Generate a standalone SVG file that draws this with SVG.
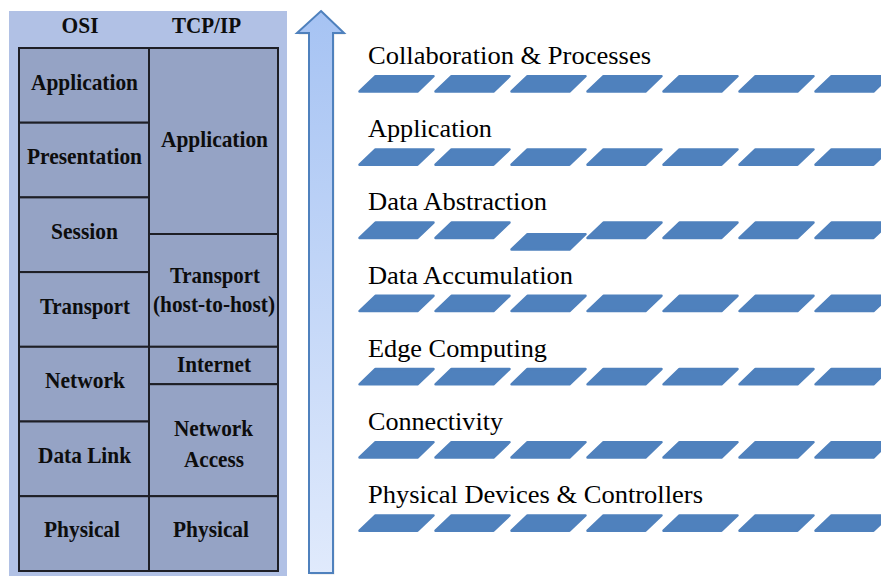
<svg xmlns="http://www.w3.org/2000/svg" width="881" height="576" viewBox="0 0 881 576">
  <style>
    .panel { fill: #b1c1e5; }
    .cell { fill: #95a3c5; stroke: #1e1f26; stroke-width: 2; }
    .lbl { fill: #0d0d0d; text-anchor: middle; }
    .layer { fill: #000; }
    .tile { fill: #4f81bd; stroke: #4f81bd; stroke-width: 2.5; stroke-linejoin: round; }
    .arrow { fill: url(#shaft); stroke: #4f81bd; stroke-width: 2; }
  </style>
  <defs>
    <linearGradient id="shaft" x1="0" y1="0" x2="0" y2="1">
      <stop offset="0" stop-color="#a6c3f3"/>
      <stop offset="1" stop-color="#e0eafc"/>
    </linearGradient>
    <!-- one slanted tile of a layer strip -->
    <polygon id="tile" class="tile" points="1.5,16.5 17.5,1.2 75.5,1.2 59.5,16.5"/>
  </defs>

  <!-- OSI / TCP-IP comparison table -->
  <g id="osi-tcpip-table">
    <rect class="panel" x="9" y="11" width="278" height="565"/>
    <text class="lbl" font-family="Liberation Serif" font-weight="bold" font-size="24" x="80" y="33" textLength="37" lengthAdjust="spacingAndGlyphs">OSI</text>
    <text class="lbl" font-family="Liberation Serif" font-weight="bold" font-size="24" x="206.5" y="33" textLength="69" lengthAdjust="spacingAndGlyphs">TCP/IP</text>

    <g id="osi-application"><rect class="cell" x="19" y="48" width="130" height="74.7"/>
      <text class="lbl" font-family="Liberation Serif" font-weight="bold" font-size="24" x="84.5" y="90" textLength="107" lengthAdjust="spacingAndGlyphs">Application</text></g>
    <g id="osi-presentation"><rect class="cell" x="19" y="122.7" width="130" height="74.7"/>
      <text class="lbl" font-family="Liberation Serif" font-weight="bold" font-size="24" x="84.5" y="164" textLength="115" lengthAdjust="spacingAndGlyphs">Presentation</text></g>
    <g id="osi-session"><rect class="cell" x="19" y="197.4" width="130" height="74.7"/>
      <text class="lbl" font-family="Liberation Serif" font-weight="bold" font-size="24" x="84.5" y="239" textLength="67" lengthAdjust="spacingAndGlyphs">Session</text></g>
    <g id="osi-transport"><rect class="cell" x="19" y="272.1" width="130" height="74.7"/>
      <text class="lbl" font-family="Liberation Serif" font-weight="bold" font-size="24" x="85" y="314" textLength="90" lengthAdjust="spacingAndGlyphs">Transport</text></g>
    <g id="osi-network"><rect class="cell" x="19" y="346.8" width="130" height="74.7"/>
      <text class="lbl" font-family="Liberation Serif" font-weight="bold" font-size="24" x="85" y="388" textLength="80" lengthAdjust="spacingAndGlyphs">Network</text></g>
    <g id="osi-datalink"><rect class="cell" x="19" y="421.5" width="130" height="74.7"/>
      <text class="lbl" font-family="Liberation Serif" font-weight="bold" font-size="24" x="84.5" y="463" textLength="93" lengthAdjust="spacingAndGlyphs">Data Link</text></g>
    <g id="osi-physical"><rect class="cell" x="19" y="496.2" width="130" height="74.8"/>
      <text class="lbl" font-family="Liberation Serif" font-weight="bold" font-size="24" x="82" y="537" textLength="76" lengthAdjust="spacingAndGlyphs">Physical</text></g>

    <g id="tcp-application"><rect class="cell" x="149" y="48" width="129" height="186"/>
      <text class="lbl" font-family="Liberation Serif" font-weight="bold" font-size="24" x="214.5" y="147" textLength="107" lengthAdjust="spacingAndGlyphs">Application</text></g>
    <g id="tcp-transport"><rect class="cell" x="149" y="234" width="129" height="112.8"/>
      <text class="lbl" font-family="Liberation Serif" font-weight="bold" font-size="24" x="215" y="283" textLength="90" lengthAdjust="spacingAndGlyphs">Transport</text>
      <text class="lbl" font-family="Liberation Serif" font-weight="bold" font-size="24" x="214" y="312" textLength="122" lengthAdjust="spacingAndGlyphs">(host-to-host)</text></g>
    <g id="tcp-internet"><rect class="cell" x="149" y="346.8" width="129" height="37.4"/>
      <text class="lbl" font-family="Liberation Serif" font-weight="bold" font-size="24" x="214" y="372" textLength="74" lengthAdjust="spacingAndGlyphs">Internet</text></g>
    <g id="tcp-network-access"><rect class="cell" x="149" y="384.2" width="129" height="112"/>
      <text class="lbl" font-family="Liberation Serif" font-weight="bold" font-size="24" x="213.5" y="436" textLength="79" lengthAdjust="spacingAndGlyphs">Network</text>
      <text class="lbl" font-family="Liberation Serif" font-weight="bold" font-size="24" x="214" y="467" textLength="60" lengthAdjust="spacingAndGlyphs">Access</text></g>
    <g id="tcp-physical"><rect class="cell" x="149" y="496.2" width="129" height="74.8"/>
      <text class="lbl" font-family="Liberation Serif" font-weight="bold" font-size="24" x="211" y="537" textLength="76" lengthAdjust="spacingAndGlyphs">Physical</text></g>
  </g>

  <!-- upward arrow with a soft offset shadow -->
  <g id="up-arrow">
    <polygon points="322.5,12.5 345.5,34.5 334.5,34.5 334.5,574.5 310.5,574.5 310.5,34.5 298.5,34.5" fill="#000" fill-opacity="0.12"/>
    <polygon class="arrow" points="321,11 344,33 333,33 333,573 309,573 309,33 297,33"/>
  </g>

  <!-- IoT reference model layers -->
  <g id="iot-layers">
    <g id="layer-collaboration">
      <text class="layer" font-family="Liberation Serif" font-size="26" x="368" y="64" textLength="283" lengthAdjust="spacingAndGlyphs">Collaboration &amp; Processes</text>
      <use href="#tile" x="358" y="75"/><use href="#tile" x="434" y="75"/><use href="#tile" x="510" y="75"/>
      <use href="#tile" x="586" y="75"/><use href="#tile" x="662" y="75"/><use href="#tile" x="738" y="75"/>
      <use href="#tile" x="814" y="75"/>
    </g>
    <g id="layer-application">
      <text class="layer" font-family="Liberation Serif" font-size="26" x="368" y="137.2" textLength="124" lengthAdjust="spacingAndGlyphs">Application</text>
      <use href="#tile" x="358" y="148.2"/><use href="#tile" x="434" y="148.2"/><use href="#tile" x="510" y="148.2"/>
      <use href="#tile" x="586" y="148.2"/><use href="#tile" x="662" y="148.2"/><use href="#tile" x="738" y="148.2"/>
      <use href="#tile" x="814" y="148.2"/>
    </g>
    <g id="layer-data-abstraction">
      <text class="layer" font-family="Liberation Serif" font-size="26" x="368" y="210.4" textLength="179" lengthAdjust="spacingAndGlyphs">Data Abstraction</text>
      <use href="#tile" x="358" y="221.4"/><use href="#tile" x="434" y="221.4"/><use href="#tile" x="510" y="233"/>
      <use href="#tile" x="586" y="221.4"/><use href="#tile" x="662" y="221.4"/><use href="#tile" x="738" y="221.4"/>
      <use href="#tile" x="814" y="221.4"/>
    </g>
    <g id="layer-data-accumulation">
      <text class="layer" font-family="Liberation Serif" font-size="26" x="368" y="283.6" textLength="205" lengthAdjust="spacingAndGlyphs">Data Accumulation</text>
      <use href="#tile" x="358" y="294.6"/><use href="#tile" x="434" y="294.6"/><use href="#tile" x="510" y="294.6"/>
      <use href="#tile" x="586" y="294.6"/><use href="#tile" x="662" y="294.6"/><use href="#tile" x="738" y="294.6"/>
      <use href="#tile" x="814" y="294.6"/>
    </g>
    <g id="layer-edge-computing">
      <text class="layer" font-family="Liberation Serif" font-size="26" x="368" y="356.8" textLength="179" lengthAdjust="spacingAndGlyphs">Edge Computing</text>
      <use href="#tile" x="358" y="367.8"/><use href="#tile" x="434" y="367.8"/><use href="#tile" x="510" y="367.8"/>
      <use href="#tile" x="586" y="367.8"/><use href="#tile" x="662" y="367.8"/><use href="#tile" x="738" y="367.8"/>
      <use href="#tile" x="814" y="367.8"/>
    </g>
    <g id="layer-connectivity">
      <text class="layer" font-family="Liberation Serif" font-size="26" x="368" y="430" textLength="135" lengthAdjust="spacingAndGlyphs">Connectivity</text>
      <use href="#tile" x="358" y="441"/><use href="#tile" x="434" y="441"/><use href="#tile" x="510" y="441"/>
      <use href="#tile" x="586" y="441"/><use href="#tile" x="662" y="441"/><use href="#tile" x="738" y="441"/>
      <use href="#tile" x="814" y="441"/>
    </g>
    <g id="layer-physical-devices">
      <text class="layer" font-family="Liberation Serif" font-size="26" x="368" y="503.2" textLength="335" lengthAdjust="spacingAndGlyphs">Physical Devices &amp; Controllers</text>
      <use href="#tile" x="358" y="514.2"/><use href="#tile" x="434" y="514.2"/><use href="#tile" x="510" y="514.2"/>
      <use href="#tile" x="586" y="514.2"/><use href="#tile" x="662" y="514.2"/><use href="#tile" x="738" y="514.2"/>
      <use href="#tile" x="814" y="514.2"/>
    </g>
  </g>
</svg>
